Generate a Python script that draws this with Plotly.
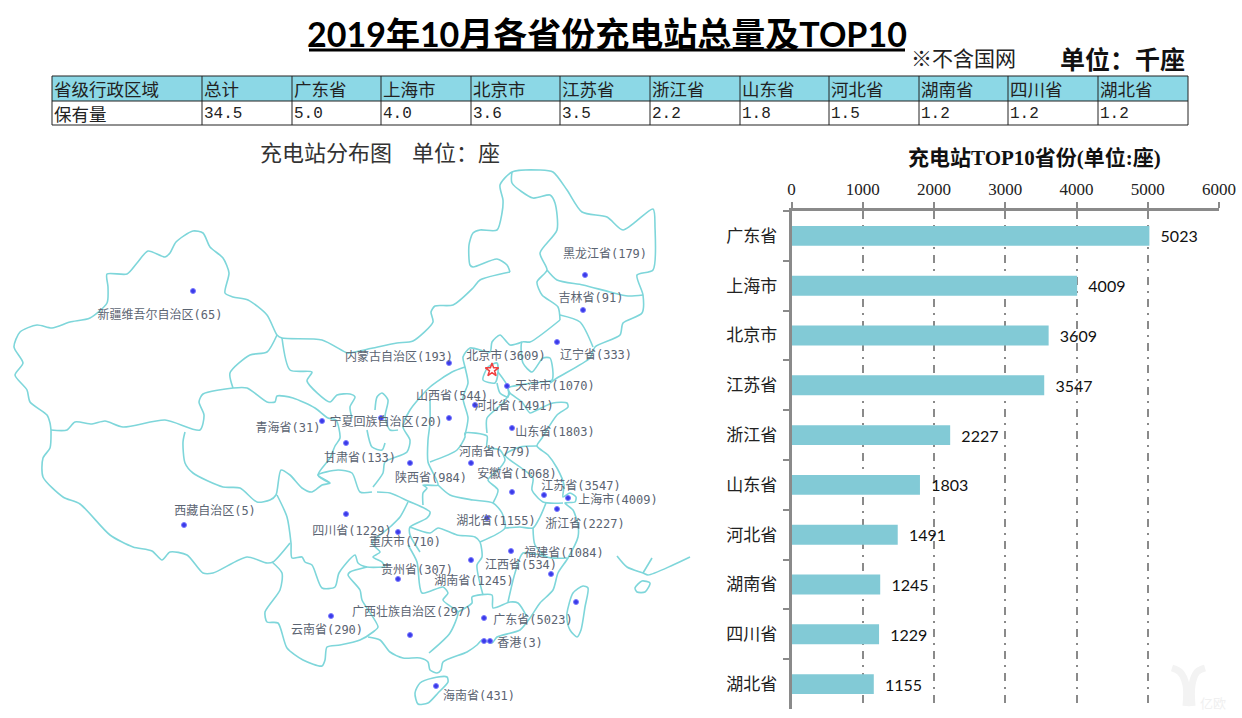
import plotly.graph_objects as go

# ---------- table data ----------
table_header = ["省级行政区域", "总计", "广东省", "上海市", "北京市", "江苏省", "浙江省", "山东省", "河北省", "湖南省", "四川省", "湖北省"]
table_row_name = "保有量"
table_values = ["34.5", "5.0", "4.0", "3.6", "3.5", "2.2", "1.8", "1.5", "1.2", "1.2", "1.2"]

# ---------- bar data ----------
top10_names = ["广东省", "上海市", "北京市", "江苏省", "浙江省", "山东省", "河北省", "湖南省", "四川省", "湖北省"]
top10_values = [5023, 4009, 3609, 3547, 2227, 1803, 1491, 1245, 1229, 1155]

# ---------- map data ----------
province_names = ["新疆维吾尔自治区", "黑龙江省", "吉林省", "辽宁省", "内蒙古自治区", "北京市", "天津市", "河北省",
                  "山西省", "宁夏回族自治区", "山东省", "青海省", "甘肃省", "陕西省", "河南省", "安徽省", "江苏省",
                  "上海市", "浙江省", "湖北省", "四川省", "重庆市", "西藏自治区", "福建省", "江西省", "贵州省",
                  "湖南省", "广西壮族自治区", "广东省", "云南省", "香港", "海南省"]
province_counts = [65, 179, 91, 333, 193, 3609, 1070, 1491, 544, 20, 1803, 31, 133, 984, 779, 1068, 3547,
                   4009, 2227, 1155, 1229, 710, 5, 1084, 534, 307, 1245, 297, 5023, 290, 3, 431]
label_x = [160, 605, 591, 596, 399, 506, 555, 514, 452, 386, 555, 288, 360, 431, 495, 517, 581,
           618, 585, 496, 352, 405, 215, 564, 521, 417, 474, 412, 533, 327, 520, 479]
label_y = [316, 255, 299, 356, 358, 357, 387, 407, 397, 423, 433, 429, 459, 479, 453, 475, 487,
           501, 525, 522, 532, 543, 512, 554, 566, 571, 582, 613, 621, 631, 644, 697]
station_x = [193, 585, 583, 557, 449, 507, 475, 449, 381, 512, 322, 346, 410, 471, 512, 544, 568,
             557, 487, 346, 398, 184, 551, 511, 398, 471, 410, 484, 331, 490, 484, 576, 436]
station_y = [291, 275, 310, 342, 363, 386, 405, 418, 418, 428, 421, 443, 463, 463, 492, 495, 498,
             509, 518, 514, 532, 525, 574, 551, 579, 560, 635, 618, 616, 641, 641, 602, 686]
capital_x = [492]
capital_y = [370]

map_borders = [
    # Xinjiang outer
    [(51,430),(50,423),(47,415),(30,402),(27,390),(15,375),(23,363),(14,347),(20,332),(37,325),(52,328),(70,322),
     (90,318),(107,303),(108,287),(107,274),(127,274),(137,263),(148,251),(165,257),(170,253),(176,242),(193,231),
     (203,233),(210,247),(223,258),(229,273),(225,293),(233,297),(248,300),(267,315),(277,335),(282,338),(322,340),(347,353),
     (350,353),(373,348),(397,343),(413,341),(433,322),(431,312),(435,306),(453,305),(473,288),(480,280),(510,272)],
    # Xinjiang / Tibet / Qinghai upper
    [(51,430),(67,430),(75,422),(92,424),(105,421),(123,427),(165,420),(200,430),(204,415),(199,402),(203,394),(233,388),
     (247,388),(267,402),(275,402),(277,396),(293,398),(315,408),(328,418),(336,420),(340,438),(335,446),(330,458),(318,475),(330,483)],
    [(277,335),(267,352),(250,355),(230,373),(233,388)],
    [(282,338),(290,370),(312,372),(307,381),(330,402),(337,395),(350,394),(355,397),(350,407),(352,418)],
    # Qinghai south
    [(185,432),(183,442),(185,463),(193,473),(223,487),(240,488),(257,502),(270,500),(276,495),(281,470),(290,475),
     (302,488),(312,492),(322,485),(330,483),(318,475),(338,470),(352,473),(360,492),(372,492)],
    # Tibet
    [(51,430),(50,448),(43,458),(43,477),(63,497),(80,504),(110,535),(133,547),(152,551),(162,560),(170,552),(187,555),
     (203,573),(213,573),(247,557),(267,563),(273,562),(290,543)],
    [(277,495),(287,517),(291,543),(292,558),(302,557),(305,562),(312,565),(322,588),(335,587),(339,573),(355,555),(358,563),(367,567),(385,567)],
    # Yunnan
    [(272,562),(282,573),(280,590),(265,612),(267,622),(278,623),(287,648),(303,660),(322,666),(325,660),(327,647),(340,645),(360,640),
     (373,632),(378,627),(362,600),(360,590),(348,575),(350,572),(367,567)],
    # South and east coast
    [(368,637),(380,640),(390,652),(403,658),(420,658),(428,662),(430,670),(437,673),(441,670),(443,662),(467,652),(477,645),(482,640),
     (492,643),(497,637),(520,630),(530,618),(540,603),(553,590),(558,573),(568,558),(578,537),(578,525),(573,510),(565,503),(575,502),
     (576,497),(570,493),(563,497),(564,485),(557,468),(548,455),(537,446),(542,438),(557,415),(568,407),(567,403),(553,403),(537,410),
     (530,413),(522,402),(510,393),(508,388),(533,383),(552,380),(553,373),(550,358),(543,358),(532,372),(523,363),(522,342),(530,342),(560,320)],
    # North east outer
    [(510,272),(507,265),(497,259),(473,267),(470,265),(469,245),(473,233),(480,230),(497,230),(502,213),(503,200),(500,185),(512,172),
     (540,170),(553,172),(567,190),(582,212),(607,217),(623,230),(653,209),(655,227),(653,270),(637,275),(643,295),(642,313),(623,323),
     (620,335),(595,347),(590,358),(557,378),(550,383)],
    [(512,172),(512,183),(533,198),(550,195),(555,203),(557,230),(540,253),(547,270),(537,282),(542,295),(558,307),(560,320)],
    [(547,270),(557,280),(583,285),(610,292),(628,296),(643,295)],
    [(560,315),(580,322),(593,347)],
    # Hebei / Inner Mongolia
    [(522,342),(510,345),(500,335),(492,342),(490,352),(470,348),(463,357),(465,367),(468,383),(463,398),(468,418),(465,435)],
    [(483,380),(488,367),(497,363),(498,372),(495,383),(483,380)],
    [(498,372),(508,387),(508,397),(500,393),(497,383)],
    [(465,367),(452,372),(430,387),(410,410),(403,427),(410,440),(407,452),(385,462),(383,473),(373,487)],
    [(430,400),(430,423),(428,440),(428,462),(438,485),(423,485),(427,488),(423,493),(423,505)],
    [(375,410),(377,397),(382,393),(388,400),(385,417),(390,430),(398,430)],
    [(367,430),(372,447),(382,450),(385,443)],
    [(377,492),(390,493),(408,501),(430,512),(427,518),(410,527),(410,535),(420,552)],
    [(408,502),(400,517),(390,527),(372,543),(380,552),(373,557),(382,562),(385,567)],
    [(408,545),(417,562),(422,593),(443,587),(448,593),(443,600),(453,608),(458,612),(450,633),(429,653)],
    [(458,612),(472,603),(472,597),(492,595),(493,608),(510,602),(518,603),(527,617)],
    [(410,527),(430,533),(438,528),(457,535),(475,537),(480,542),(482,557),(477,565),(483,595)],
    [(438,485),(450,495),(473,500),(493,503),(502,513),(505,528),(480,542)],
    [(430,462),(457,450),(465,437),(465,433),(487,436),(487,447),(500,450),(505,460),(500,468),(488,480),(498,490),(493,503)],
    [(537,446),(520,447),(505,455),(520,467),(533,478),(532,490),(543,502),(563,503)],
    [(546,503),(540,517),(533,528),(520,527),(505,528)],
    [(533,528),(535,545),(547,557),(567,558)],
    [(547,557),(523,553),(515,573),(508,602)],
    [(487,433),(487,418),(503,403),(510,393)],
    # Islands and neighbours
    [(567,620),(570,630),(577,637),(581,630),(585,607),(588,588),(583,586),(573,593),(567,613),(567,620)],
    [(415,693),(420,683),(433,678),(447,677),(448,682),(438,693),(428,703),(418,704),(415,693)],
    [(617,556),(627,567),(643,573),(648,575),(673,565),(690,557)],
    [(643,573),(652,558)],
    [(635,588),(642,581),(650,583),(645,592),(637,592),(635,588)],
]

watermark_strokes = [
    [(1172,668),(1180,672),(1186,685),(1186,706)],
    [(1205,668),(1197,672),(1192,685),(1192,706)],
]

# ---------- page layout helpers ----------
W, H = 1242, 718
col_edges = [52, 202, 292, 381, 471, 560, 650, 740, 829, 919, 1008, 1098, 1188]
row_edges = [76, 101, 125]
CJK = "Noto Sans CJK SC"
GRAY = "#8a8a8a"
LINE = "#7ed6da"

fig = go.Figure()

# map borders
bx, by = [], []
for poly in map_borders:
    bx += [p[0] for p in poly] + [None]
    by += [p[1] for p in poly] + [None]
fig.add_trace(go.Scatter(x=bx, y=by, mode="lines", xaxis="x", yaxis="y", hoverinfo="skip",
                         line=dict(color=LINE, width=1.6, shape="spline", smoothing=0.7)))

# watermark
wx, wy = [], []
for poly in watermark_strokes:
    wx += [p[0] for p in poly] + [None]
    wy += [p[1] for p in poly] + [None]
fig.add_trace(go.Scatter(x=wx, y=wy, mode="lines", xaxis="x", yaxis="y", hoverinfo="skip",
                         line=dict(color="#f3f3f3", width=7, shape="spline")))

# stations
fig.add_trace(go.Scatter(x=station_x, y=station_y, mode="markers", xaxis="x", yaxis="y",
                         marker=dict(size=5, color="#3a3ae8", line=dict(color="#7a7aff", width=1))))
fig.add_trace(go.Scatter(x=capital_x, y=capital_y, mode="markers", xaxis="x", yaxis="y",
                         marker=dict(size=10, symbol="star-open", color="#f04040", line=dict(color="#f04040", width=1.5))))
fig.add_trace(go.Scatter(x=label_x, y=label_y, mode="text", xaxis="x", yaxis="y",
                         text=[f"{n}({v})" for n, v in zip(province_names, province_counts)],
                         textposition="middle center",
                         textfont=dict(family=f"DejaVu Sans Mono, {CJK}", size=12, color="#5b6472")))

# bars
fig.add_trace(go.Bar(x=top10_values, y=top10_names, orientation="h", xaxis="x2", yaxis="y2", width=0.4,
                     marker=dict(color="#82cad6", line=dict(width=0)),
                     text=[f"\u00a0\u00a0{v}" for v in top10_values], textposition="outside", cliponaxis=False,
                     textangle=0, textfont=dict(family="Lato", size=16, color="#111")))

shapes = [
    # title underline
    dict(type="line", xref="x", yref="y", x0=309, x1=905, y0=50, y1=50, line=dict(color="#000", width=3)),
    # table header fill
    dict(type="rect", xref="x", yref="y", x0=col_edges[0], x1=col_edges[-1], y0=row_edges[0], y1=row_edges[1],
         fillcolor="#8cd8e6", line=dict(width=0), layer="below"),
]
for c in col_edges:
    shapes.append(dict(type="line", xref="x", yref="y", x0=c, x1=c, y0=row_edges[0], y1=row_edges[-1],
                       line=dict(color="#222", width=1)))
for r in row_edges:
    shapes.append(dict(type="line", xref="x", yref="y", x0=col_edges[0], x1=col_edges[-1], y0=r, y1=r,
                       line=dict(color="#222", width=1)))

ann = []
def text(x, y, s, size, anchor="left", family=CJK, color="#111"):
    ann.append(dict(xref="x", yref="y", x=x, y=y, text=s, showarrow=False, xanchor=anchor, yanchor="middle",
                    font=dict(family=family, size=size, color=color)))

text(607, 33, "<b>2019年10月各省份充电站总量及TOP10</b>", 34, "center", f"Lato, {CJK}", "#000")
text(909, 57, "※不含国网", 21, color="#222")
text(1058, 57.5, "<b>单位：千座</b>", 25, color="#111")
text(258, 151, "充电站分布图", 22, color="#333")
text(410, 151, "单位：座", 22, color="#333")
text(1034, 158, "<b>充电站TOP10省份(单位:座)</b>", 21, "center", f"Liberation Serif, {CJK}", "#111")
text(1228, 702, "亿欧", 13, "right", CJK, "#f0f0f0")

for i, h in enumerate(table_header):
    text(col_edges[i], 88, h, 17.5, color="#222")
text(col_edges[0], 113, table_row_name, 17.5, color="#222")
for i, v in enumerate(table_values):
    text(col_edges[i + 1], 113.5, v, 16, family="Liberation Mono", color="#222")

fig.update_layout(
    width=W, height=H, autosize=False, margin=dict(l=0, r=0, t=0, b=0, autoexpand=False), showlegend=False,
    paper_bgcolor="white", plot_bgcolor="rgba(0,0,0,0)",
    shapes=shapes, annotations=ann, bargap=0.6,
    xaxis=dict(domain=[0, 1], range=[0, W], visible=False, fixedrange=True, automargin=False),
    yaxis=dict(domain=[0, 1], range=[H, 0], visible=False, fixedrange=True, automargin=False),
    xaxis2=dict(domain=[791.5 / W, 1219 / W], range=[0, 6000], side="top", anchor="y2", dtick=1000, automargin=False,
                showline=True, linecolor=GRAY, linewidth=2.5, ticks="outside", ticklen=6, tickwidth=2, tickcolor=GRAY,
                showgrid=True, gridcolor=GRAY, gridwidth=2, griddash="8px,6px,2px,6px", zeroline=False,
                tickfont=dict(family="Liberation Serif", size=17, color="#222")),
    yaxis2=dict(domain=[1 - 709 / H, 1 - 211 / H], type="category", autorange="reversed", anchor="x2", automargin=False,
                showline=True, linecolor=GRAY, linewidth=2.5, ticks="outside", ticklen=6, tickwidth=2, tickcolor=GRAY,
                tickson="boundaries", showgrid=False, zeroline=False, ticklabelstandoff=8,
                tickfont=dict(family=CJK, size=17, color="#222")),
)

fig.write_html("out.html", config=dict(displayModeBar=False, responsive=False),
               default_width="1242px", default_height="718px",
               post_script="document.body.style.margin='0';document.documentElement.style.overflow='hidden';document.body.style.overflow='hidden';")
